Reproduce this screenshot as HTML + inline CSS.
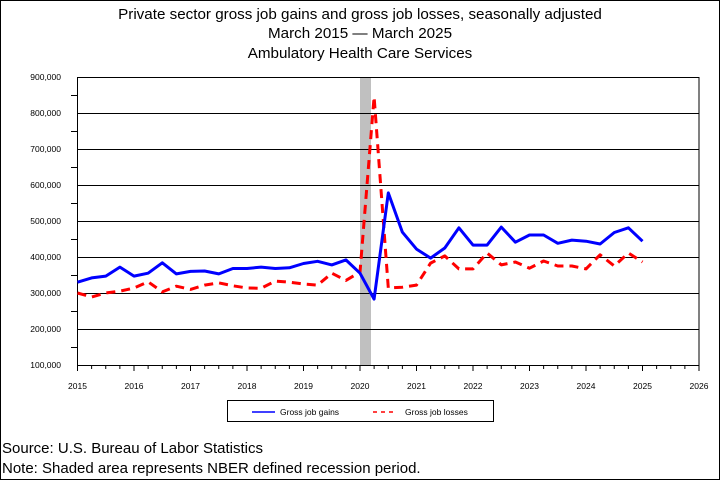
<!DOCTYPE html>
<html><head><meta charset="utf-8"><style>
html,body{margin:0;padding:0;background:#fff}
svg{display:block}
text{font-family:"Liberation Sans",sans-serif;fill:#000}
</style></head><body>
<svg width="720" height="480" viewBox="0 0 720 480" xmlns="http://www.w3.org/2000/svg">
<rect x="0.5" y="0.5" width="719" height="479" fill="#fff" stroke="#000" stroke-width="1"/>
<text x="360" y="19" font-size="15.2" text-anchor="middle">Private sector gross job gains and gross job losses, seasonally adjusted</text>
<text x="360" y="38" font-size="15.2" text-anchor="middle">March 2015 — March 2025</text>
<text x="360" y="58" font-size="15.2" text-anchor="middle">Ambulatory Health Care Services</text>
<rect x="360" y="77" width="11" height="288" fill="#c0c0c0"/>
<g stroke="#000" stroke-width="1">
<line x1="77.5" y1="77.5" x2="699" y2="77.5"/>
<line x1="77.5" y1="113.5" x2="699" y2="113.5"/>
<line x1="77.5" y1="149.5" x2="699" y2="149.5"/>
<line x1="77.5" y1="185.5" x2="699" y2="185.5"/>
<line x1="77.5" y1="221.5" x2="699" y2="221.5"/>
<line x1="77.5" y1="257.5" x2="699" y2="257.5"/>
<line x1="77.5" y1="293.5" x2="699" y2="293.5"/>
<line x1="77.5" y1="329.5" x2="699" y2="329.5"/>
<line x1="77.5" y1="365.5" x2="699" y2="365.5"/>
<line x1="77.5" y1="77" x2="77.5" y2="366"/>
<line x1="699" y1="77" x2="699" y2="366"/>
</g>
<g stroke="#000" stroke-width="1" id="ticks"></g>
<g font-size="8.5" text-anchor="end">
<text x="61" y="80">900,000</text><text x="61" y="116">800,000</text><text x="61" y="152">700,000</text>
<text x="61" y="188">600,000</text><text x="61" y="224">500,000</text><text x="61" y="260">400,000</text>
<text x="61" y="296">300,000</text><text x="61" y="332">200,000</text><text x="61" y="368">100,000</text>
</g>
<g font-size="8.5" text-anchor="middle" id="xl"></g>
<polyline id="red" fill="none" stroke="#ff0000" stroke-width="3" stroke-dasharray="9,6" stroke-linejoin="round"/>
<polyline id="blue" fill="none" stroke="#0000ff" stroke-width="3" stroke-linejoin="round"/>
<rect x="227.5" y="400.5" width="266" height="21" fill="#fff" stroke="#000"/>
<line x1="252" y1="412" x2="275" y2="412" stroke="#0000ff" stroke-width="1.5"/>
<text x="280" y="415" font-size="8.5">Gross job gains</text>
<line x1="373" y1="412" x2="397" y2="412" stroke="#ff0000" stroke-width="1.5" stroke-dasharray="4,4"/>
<text x="405" y="415" font-size="8.5">Gross job losses</text>
<text x="2" y="453" font-size="15">Source: U.S. Bureau of Labor Statistics</text>
<text x="2" y="473" font-size="15">Note: Shaded area represents NBER defined recession period.</text>
<script>
var ns="http://www.w3.org/2000/svg";
var x0=77.5,dx=56.5/4;
function Y(v){return 365-(v-100)*0.36;}
var t=document.getElementById("ticks");
for(var i=0;i<=44;i++){var x=x0+i*dx;var l=document.createElementNS(ns,"line");
l.setAttribute("x1",x);l.setAttribute("x2",x);l.setAttribute("y1",365);l.setAttribute("y2",i%4==0?371:369);t.appendChild(l);}
for(var v=150;v<900;v+=100){var l=document.createElementNS(ns,"line");
l.setAttribute("x1",71);l.setAttribute("x2",77.5);l.setAttribute("y1",Y(v)+0.5);l.setAttribute("y2",Y(v)+0.5);t.appendChild(l);}
var xl=document.getElementById("xl");
for(var k=0;k<=11;k++){var e=document.createElementNS(ns,"text");e.setAttribute("x",x0+k*56.5);e.setAttribute("y",389);e.textContent=2015+k;xl.appendChild(e);}
var g=[330,342,347,372,347,355,384,353,360,361,353,368,368,372,368,370,382,388,378,392,355,283,578,469,422,397,425,481,433,433,483,441,461,461,438,447,444,436,468,481,444];
var r=[300,289,300,305,314,331,303,319,310,322,328,320,314,313,333,330,325,322,355,335,358,845,314,316,322,383,403,367,367,411,378,386,369,389,375,375,367,406,375,411,386];
function pts(a){return a.map(function(v,i){return (x0+i*dx).toFixed(1)+","+Y(v).toFixed(1)}).join(" ");}
document.getElementById("blue").setAttribute("points",pts(g));
document.getElementById("red").setAttribute("points",pts(r));
</script>
</svg>
</body></html>
